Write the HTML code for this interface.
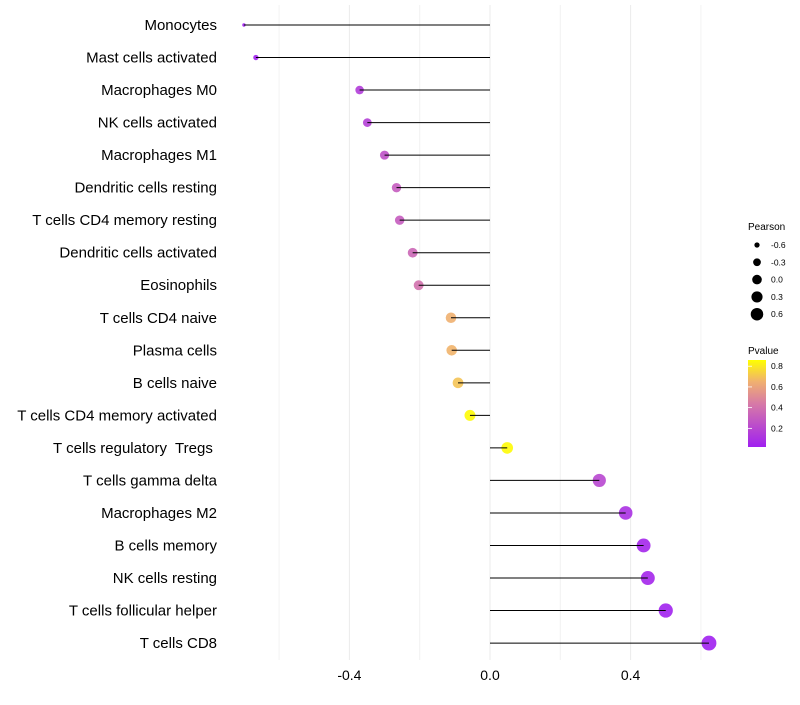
<!DOCTYPE html>
<html><head><meta charset="utf-8"><style>
body{margin:0;background:#fff;font-family:"Liberation Sans",sans-serif}
text{white-space:pre}
</style></head><body>
<svg id="chart" width="800" height="700" xmlns="http://www.w3.org/2000/svg" font-family="Liberation Sans, sans-serif" xml:space="preserve">
<g id="grid"></g>
<g id="marks"></g>
<g id="ylabels"></g>
<g id="xlabels"></g>
<g id="sizeLeg">
<text x="748" y="230" font-size="10">Pearson</text>
</g>
<g>
<text x="748" y="354" font-size="10">Pvalue</text>
<defs><linearGradient id="pg" x1="0" y1="1" x2="0" y2="0">
<stop offset="0" stop-color="#A020F0"/><stop offset="0.5" stop-color="#D77AA6"/><stop offset="0.75" stop-color="#F0B070"/><stop offset="1" stop-color="#FFFF00"/></linearGradient></defs>
<rect x="748" y="360" width="18" height="87" fill="url(#pg)"/>
<g id="colTicks"></g>
</g>
</svg>
<script>
const categories=["Monocytes","Mast cells activated","Macrophages M0","NK cells activated","Macrophages M1","Dendritic cells resting","T cells CD4 memory resting","Dendritic cells activated","Eosinophils","T cells CD4 naive","Plasma cells","B cells naive","T cells CD4 memory activated","T cells regulatory  Tregs ","T cells gamma delta","Macrophages M2","B cells memory","NK cells resting","T cells follicular helper","T cells CD8"];
const pearson=[-0.70,-0.666,-0.371,-0.349,-0.30,-0.266,-0.257,-0.22,-0.203,-0.111,-0.109,-0.091,-0.057,0.049,0.311,0.386,0.437,0.449,0.50,0.623];
const pvalue=[0.02,0.03,0.15,0.17,0.25,0.3,0.3,0.35,0.4,0.65,0.66,0.7,0.85,0.85,0.2,0.1,0.05,0.05,0.03,0.02];
const xTicks=[-0.4,0,0.4];
const xMinor=[-0.6,-0.2,0.2,0.6];
const sizeBreaks=[-0.6,-0.3,0.0,0.3,0.6];
const pBreaks=[0.2,0.4,0.6,0.8];
const NS="http://www.w3.org/2000/svg";
const x=v=>490+v*351.5;
const y=i=>25+i*32.53;
const r=v=>{const t=(v+0.67)/1.29;return t<0?1.7:Math.sqrt(7+t*48);};
const pMin=0.02,pMax=0.86;
const stops=[[0,[160,32,240]],[0.5,[215,122,166]],[0.75,[240,176,112]],[1,[255,255,0]]];
function col(p){let t=Math.min(1,Math.max(0,(p-pMin)/(pMax-pMin)));for(let k=1;k<stops.length;k++){if(t<=stops[k][0]){const a=stops[k-1],b=stops[k];const f=(t-a[0])/(b[0]-a[0]);return 'rgb('+a[1].map((c,j)=>Math.round(c+(b[1][j]-c)*f)).join(',')+')';}}return 'rgb(255,255,0)';}
function mk(tag,attrs,parent){const e=document.createElementNS(NS,tag);for(const k in attrs)e.setAttribute(k,attrs[k]);parent.appendChild(e);return e;}
const grid=document.getElementById('grid'),marks=document.getElementById('marks'),yl=document.getElementById('ylabels'),xl=document.getElementById('xlabels');
xMinor.forEach(v=>{const l=mk('line',{x1:x(v),x2:x(v),y1:5,y2:660,stroke:'#f2f2f2','stroke-width':1},grid);

});
xTicks.forEach(v=>{const l=mk('line',{x1:x(v),x2:x(v),y1:5,y2:660,stroke:'#ebebeb','stroke-width':1},grid);


const t=mk('text',{x:x(v),y:680,'font-size':14,'text-anchor':'middle',fill:'#000'},xl);t.textContent=v===0?'0.0':v.toFixed(1);

});
categories.forEach((c,i)=>{const v=pearson[i];
const ci=mk('circle',{cx:x(v),cy:y(i),r:r(v),fill:col(pvalue[i]),'fill-opacity':0.9},marks);


const ln=mk('line',{x1:x(0),x2:x(v),y1:y(i),y2:y(i),stroke:'#000','stroke-width':1},marks);


const t=mk('text',{x:217,y:y(i)+5,'font-size':15,'text-anchor':'end',fill:'#000'},yl);t.textContent=c;

});
const sl=document.getElementById('sizeLeg');
sizeBreaks.forEach((v,k)=>{const cy=245+k*17.3;
const ci=mk('circle',{cx:757,cy:cy,r:r(v)*0.85,fill:'#000'},sl);


const t=mk('text',{x:771,y:cy+3,'font-size':8.5},sl);t.textContent=v.toFixed(1);

});
const ct=document.getElementById('colTicks');
pBreaks.forEach(p=>{const yy=447-(p-pMin)/(pMax-pMin)*87;
const l=mk('line',{x1:748,x2:752,y1:yy,y2:yy,stroke:'#fff','stroke-width':0.8},ct);


const t=mk('text',{x:771,y:yy+3,'font-size':8.5},ct);t.textContent=p.toFixed(1);

});
</script>
</body></html>
